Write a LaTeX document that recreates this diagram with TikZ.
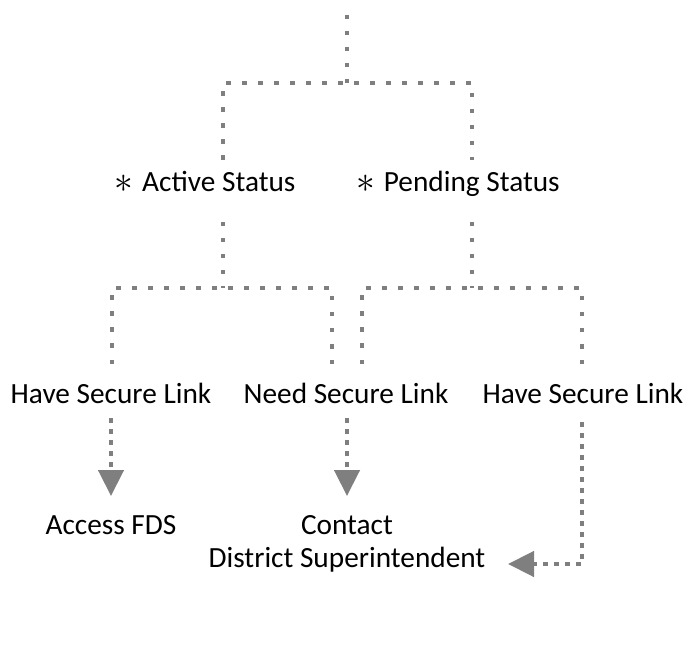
\documentclass[tikz,border=0pt]{standalone}
\usepackage{fontspec}
\setmainfont{Carlito}
\usetikzlibrary{arrows.meta}
\definecolor{lg}{HTML}{7F7F7F}
\newcommand{\myast}{\raisebox{-0.5pt}{\scalebox{1.5}{$\ast$}}\hspace{9pt}}
\begin{document}
\begin{tikzpicture}[x=1pt,y=1pt,
  tree/.style={draw=lg,line width=4.5pt,dash pattern=on 4.5pt off 11.5pt},
  arr/.style={draw=lg,line width=4.5pt,dash pattern=on 5pt off 6pt,
    -{Triangle[width=25pt,length=26pt,fill=lg]}},
  lbl/.style={font=\fontsize{29.3}{33}\selectfont,inner sep=0pt,align=center,anchor=base}]
\useasboundingbox (0,0) rectangle (686,-663);
% nodes
\node[lbl] (active) at (205,-192) {\myast Active Status};
\node[lbl] (pending) at (458,-192) {\myast Pending Status};
\node[lbl] (hs1) at (111,-403) {Have Secure Link};
\node[lbl] (ns) at (346,-403) {Need Secure Link};
\node[lbl] (hs2) at (583,-403) {Have Secure Link};
\node[lbl] (fds) at (111,-534) {Access FDS};
\node[lbl] (cds) at (347,-567) {Contact\\District Superintendent};
% coordinates
\coordinate (root) at (347,-15);
\coordinate (rj) at (347,-83);
\coordinate (ain) at (223,-160);
\coordinate (pin) at (472,-160);
\coordinate (aout) at (223,-222);
\coordinate (aj) at (223,-288);
\coordinate (pout) at (472,-222);
\coordinate (pj) at (472,-288);
\coordinate (h1in) at (112,-364);
\coordinate (nin) at (332,-364);
\coordinate (n2in) at (362,-364);
\coordinate (h2in) at (582,-364);
\coordinate (h1out) at (111,-418);
\coordinate (nout) at (347,-418);
\coordinate (h2out) at (582,-422);
\coordinate (fdsin) at (111,-496);
\coordinate (cdsin) at (347,-496);
\coordinate (cdsr) at (508,-564);
% tree connectors
\draw[tree] (root) -- (rj);
\draw[tree] (ain) |- (rj) -| (pin);
\draw[tree] (aout) -- (aj);
\draw[tree] (h1in) |- (aj) -| (nin);
\draw[tree] (pout) -- (pj);
\draw[tree] (n2in) |- (pj) -| (h2in);
% arrows
\draw[arr] (h1out) -- (fdsin);
\draw[arr] (nout) -- (cdsin);
\draw[arr] (h2out) |- (cdsr);
\end{tikzpicture}
\end{document}
